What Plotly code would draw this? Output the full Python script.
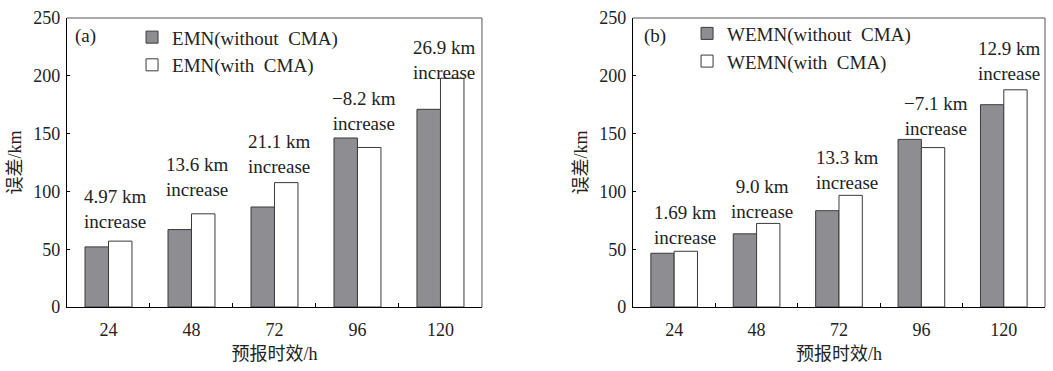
import plotly.graph_objects as go

# ---- data ----
categories = ["24", "48", "72", "96", "120"]
emn_without = [52.0, 67.0, 86.5, 146.2, 171.0]
emn_with = [56.97, 80.6, 107.6, 138.0, 197.9]
emn_labels = ["4.97 km", "13.6 km", "21.1 km", "\u22128.2 km", "26.9 km"]

wemn_without = [46.5, 63.3, 83.3, 145.0, 175.0]
wemn_with = [48.2, 72.3, 96.6, 137.9, 187.9]
wemn_labels = ["1.69 km", "9.0 km", "13.3 km", "\u22127.1 km", "12.9 km"]

y_ticks = [0, 50, 100, 150, 200, 250]

# ---- layout helpers (annotation placement, not data) ----
label_y_a = [85.2, 112.2, 132.3, 169.5, 213.6]
label_dx_a = [6.5, 6, 5.5, 6.5, 4.5]
label_y_b = [71.1, 93.3, 118.6, 165.2, 213.2]
label_dx_b = [11, 5.5, 9, 14.6, 6]

FONT = "Times New Roman, Liberation Serif, serif"
CJK_FONT = "Times New Roman, Liberation Serif, Noto Sans CJK SC"
GRAY = "#8e8e92"
EDGE = "#3a3a3a"
TXT = "#222"

fig = go.Figure()

fig.add_trace(go.Bar(x=categories, y=emn_without, name="EMN(without\u00a0\u00a0CMA)",
                     marker=dict(color=GRAY, line=dict(color=EDGE, width=1)),
                     xaxis="x", yaxis="y", legend="legend"))
fig.add_trace(go.Bar(x=categories, y=emn_with, name="EMN(with\u00a0\u00a0CMA)",
                     marker=dict(color="white", line=dict(color=EDGE, width=1)),
                     xaxis="x", yaxis="y", legend="legend"))
fig.add_trace(go.Bar(x=categories, y=wemn_without, name="WEMN(without\u00a0\u00a0CMA)",
                     marker=dict(color=GRAY, line=dict(color=EDGE, width=1)),
                     xaxis="x2", yaxis="y2", legend="legend2"))
fig.add_trace(go.Bar(x=categories, y=wemn_with, name="WEMN(with\u00a0\u00a0CMA)",
                     marker=dict(color="white", line=dict(color=EDGE, width=1)),
                     xaxis="x2", yaxis="y2", legend="legend2"))

axis_common = dict(showline=True, linecolor="black", linewidth=1.4, mirror=False,
                   showgrid=False, zeroline=False,
                   tickfont=dict(family=FONT, size=18, color=TXT))

xa = dict(axis_common, ticks="inside", tickson="boundaries", ticklen=4,
          tickcolor="black", type="category", ticklabelstandoff=6,
          title=dict(text="预报时效/h", font=dict(family=CJK_FONT, size=18, color=TXT), standoff=8))
ya = dict(axis_common, ticks="inside", ticklen=3, tickcolor="black",
          range=[0, 250], tickvals=y_ticks, ticklabelstandoff=2,
          title=dict(text="误差/km", font=dict(family=CJK_FONT, size=18, color=TXT), standoff=6))

fig.update_layout(
    width=1053, height=371,
    margin=dict(l=67, r=8, t=15, b=64),
    paper_bgcolor="white", plot_bgcolor="white",
    barmode="group", bargap=0.434, bargroupgap=0,
    font=dict(family=FONT, size=19, color=TXT),
    xaxis=dict(xa, domain=[0, 0.4243], anchor="y"),
    yaxis=dict(ya, domain=[0, 1], anchor="x"),
    xaxis2=dict(xa, domain=[0.5787, 1], anchor="y2"),
    yaxis2=dict(ya, domain=[0, 1], anchor="x2"),
    legend=dict(x=0.0665, y=0.999, xanchor="left", yanchor="top",
                bgcolor="rgba(0,0,0,0)", font=dict(family=FONT, size=19, color=TXT),
                tracegroupgap=0, itemwidth=30),
    legend2=dict(x=0.634, y=1.012, xanchor="left", yanchor="top",
                 bgcolor="rgba(0,0,0,0)", font=dict(family=FONT, size=19, color=TXT),
                 tracegroupgap=0, itemwidth=30),
)

# thin top/right frame lines
shapes = []
for xr, yr in (("x domain", "y domain"), ("x2 domain", "y2 domain")):
    shapes.append(dict(type="line", xref=xr, yref=yr, x0=0, x1=1, y0=1, y1=1,
                       line=dict(color="#555", width=1)))
    shapes.append(dict(type="line", xref=xr, yref=yr, x0=1, x1=1, y0=0, y1=1,
                       line=dict(color="#555", width=1)))
fig.update_layout(shapes=shapes)

annotations = []
for i, (lab, yv, dx) in enumerate(zip(emn_labels, label_y_a, label_dx_a)):
    annotations.append(dict(x=i, y=yv, xref="x", yref="y", text=f"{lab}<br>increase",
                            showarrow=False, xshift=dx, xanchor="center", yanchor="middle",
                            font=dict(family=FONT, size=19, color=TXT)))
for i, (lab, yv, dx) in enumerate(zip(wemn_labels, label_y_b, label_dx_b)):
    annotations.append(dict(x=i, y=yv, xref="x2", yref="y2", text=f"{lab}<br>increase",
                            showarrow=False, xshift=dx, xanchor="center", yanchor="middle",
                            font=dict(family=FONT, size=19, color=TXT)))
annotations.append(dict(x=0.0061, y=0.938, xref="paper", yref="paper", text="(a)",
                        showarrow=False, xanchor="left", yanchor="middle",
                        font=dict(family=FONT, size=19, color=TXT)))
annotations.append(dict(x=0.588, y=0.938, xref="paper", yref="paper", text="(b)",
                        showarrow=False, xanchor="left", yanchor="middle",
                        font=dict(family=FONT, size=19, color=TXT)))
fig.update_layout(annotations=annotations)

fig.write_html("out.html")
